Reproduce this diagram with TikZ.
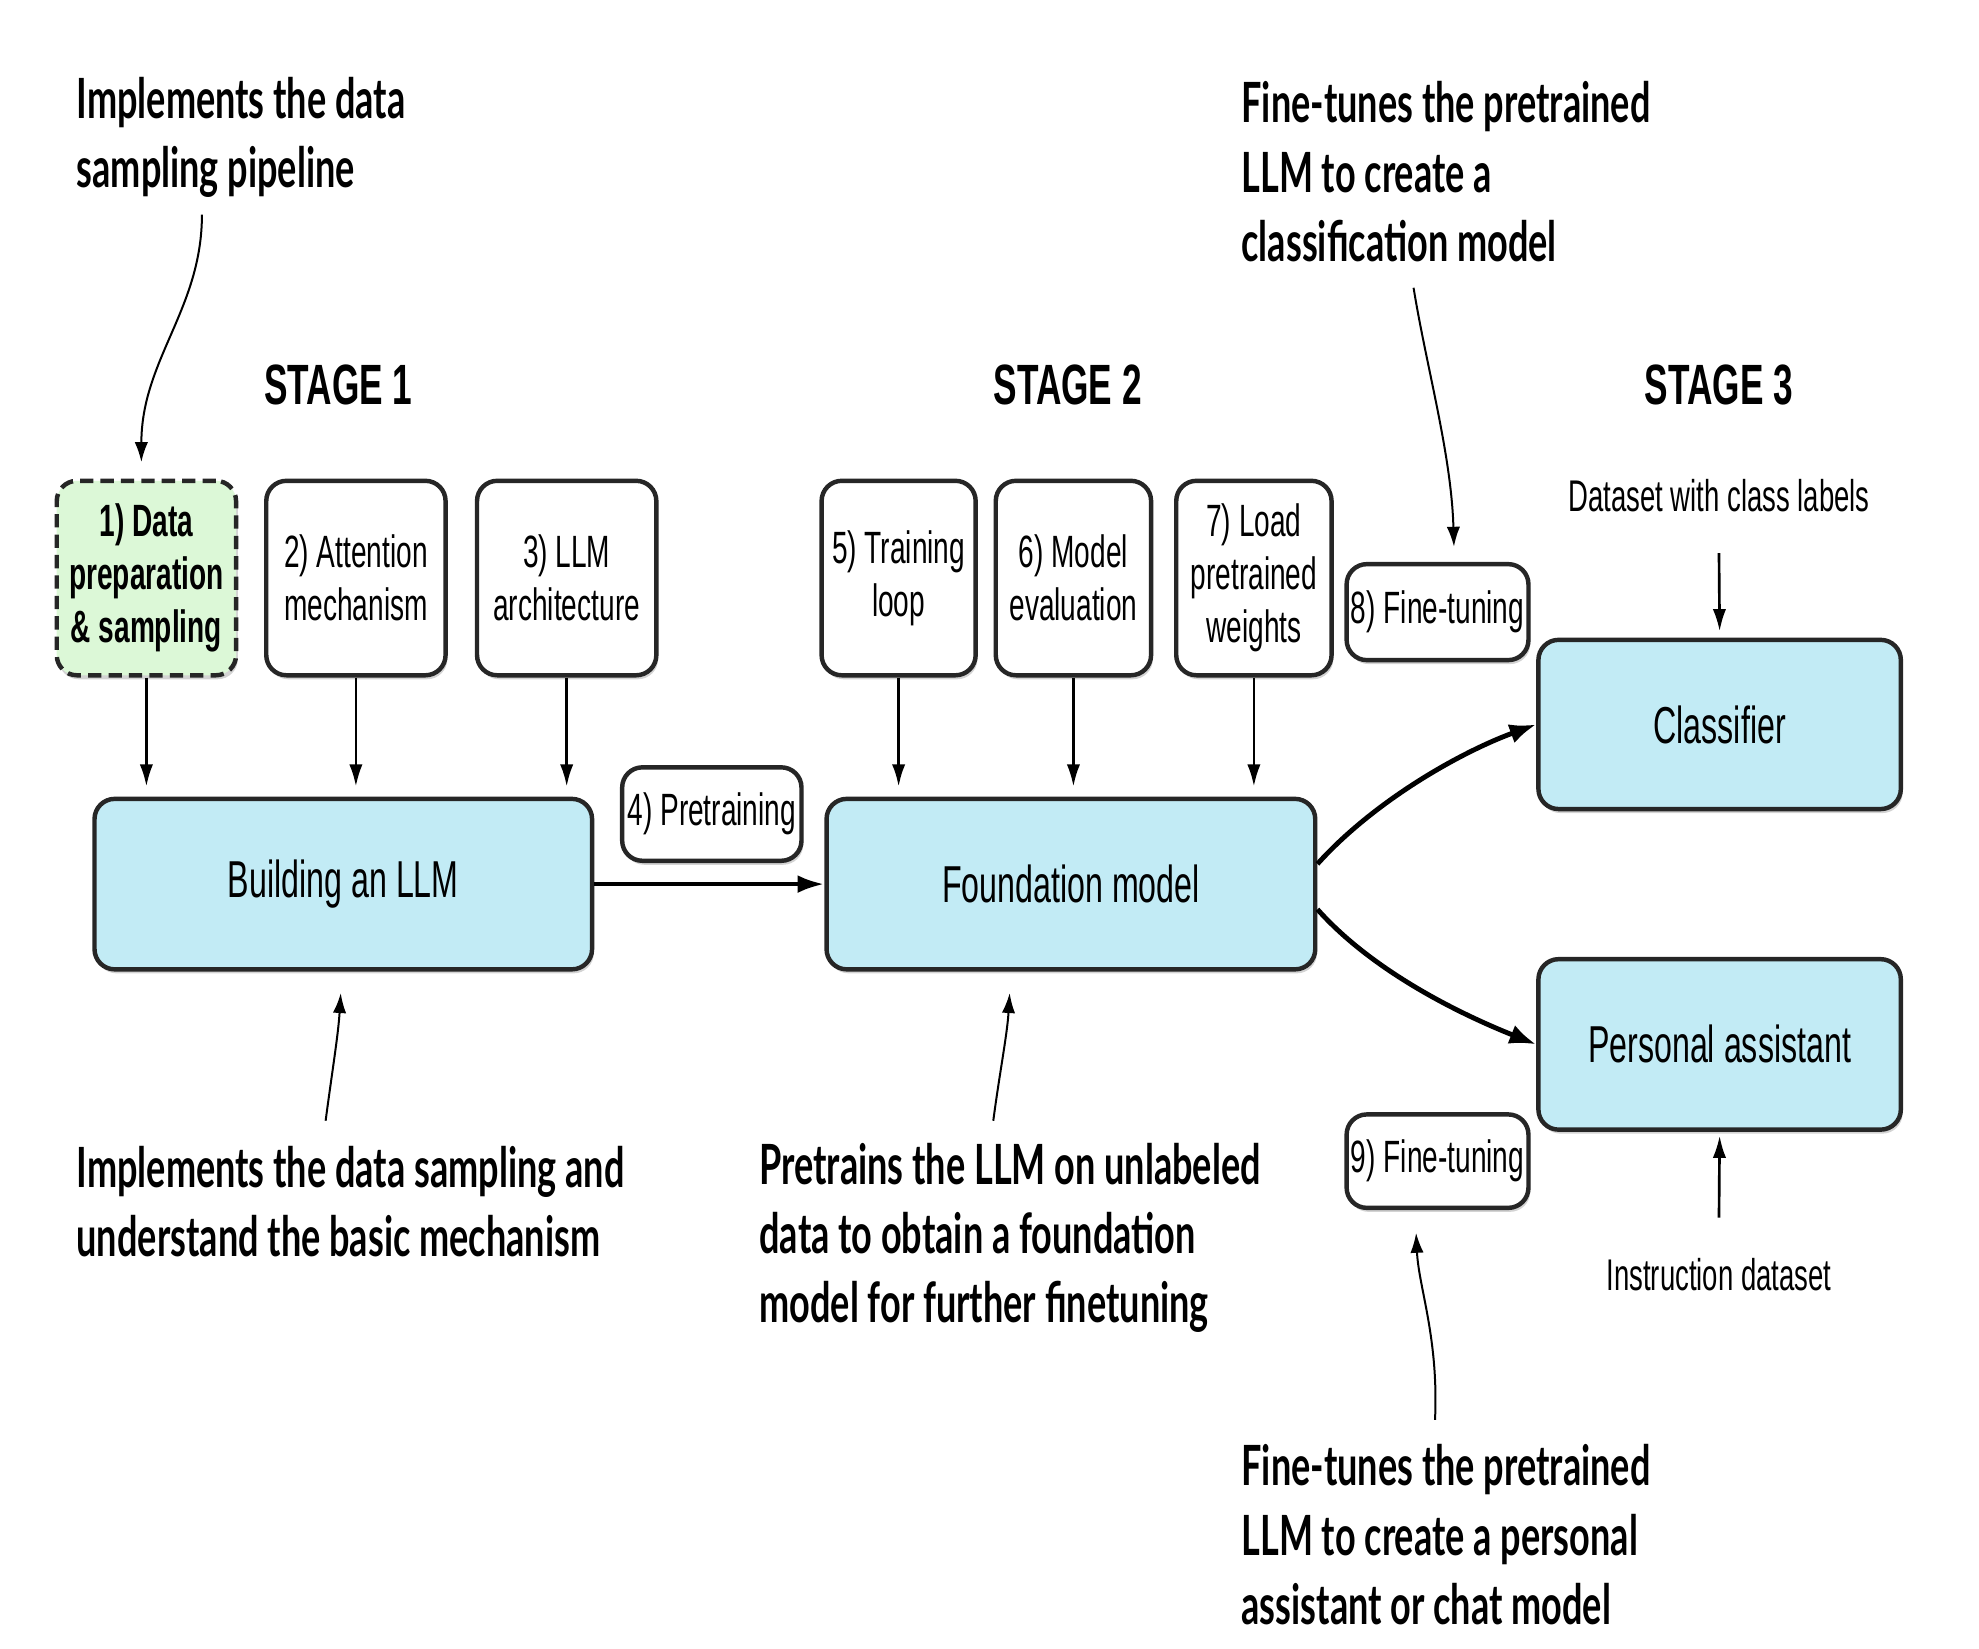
\documentclass[tikz,border=0pt]{standalone}
\usepackage{fontspec}
\setmainfont{Liberation Sans}[FakeStretch=0.62]
\newfontfamily\annfont{Lato}[FakeStretch=0.65]
\usetikzlibrary{arrows.meta,calc,shadows}
\definecolor{boxblue}{RGB}{194,235,245}
\definecolor{boxgreen}{RGB}{220,248,215}
\tikzset{
  base/.style={draw=black!85, line width=1pt, rounded corners=0.16cm, align=center, inner sep=0pt,
     drop shadow={shadow xshift=0.4pt, shadow yshift=-0.9pt, opacity=0.35}},
  smallbox/.style={base, fill=white, font=\fontsize{10.2}{11.9}\selectfont},
  bigbox/.style={base, fill=boxblue, font=\fontsize{11.7}{13}\selectfont},
  stagelbl/.style={font=\bfseries\fontsize{12.8}{14}\selectfont},
  dslbl/.style={font=\fontsize{10}{12}\selectfont},
  anntext/.style={align=left, anchor=west, inner sep=0pt, font=\annfont\bfseries\fontsize{12.5}{15.6}\selectfont},
  arr/.style={line width=0.6pt, -{Latex[length=5pt,width=3pt]}},
  thickarr/.style={line width=1.1pt, -{Latex[length=6pt,width=4.5pt]}},
  annarr/.style={line width=0.45pt, -{Latex[length=4.5pt,width=3pt]}},
}
\begin{document}
\begin{tikzpicture}[x=0.01cm,y=-0.01cm]
\useasboundingbox (0,0) rectangle (1568,1306);
% top boxes stage 1
\node[smallbox, fill=boxgreen, dash pattern=on 3pt off 1.6pt, font=\bfseries\fontsize{10.2}{11.9}\selectfont,
      minimum width=1.42cm, minimum height=1.54cm] (b1) at (116,458) {1) Data\\preparation\\\& sampling};
\node[smallbox, minimum width=1.42cm, minimum height=1.54cm] (b2) at (282,458) {2) Attention\\mechanism};
\node[smallbox, minimum width=1.42cm, minimum height=1.54cm] (b3) at (449,458) {3) LLM\\architecture};
% stage 2 boxes
\node[smallbox, minimum width=1.22cm, minimum height=1.54cm] (b5) at (712,458) {5) Training\\loop};
\node[smallbox, minimum width=1.23cm, minimum height=1.54cm] (b6) at (850.5,458) {6) Model\\evaluation};
\node[smallbox, minimum width=1.23cm, minimum height=1.54cm] (b7) at (993.5,458) {7) Load\\pretrained\\weights};
% main boxes
\node[bigbox, minimum width=3.94cm, minimum height=1.35cm] (llm) at (272,700.5) {Building an LLM};
\node[bigbox, minimum width=3.87cm, minimum height=1.35cm] (fm) at (848.5,700.5) {Foundation model};
\node[bigbox, minimum width=2.87cm, minimum height=1.34cm] (cls) at (1362.5,574) {Classifier};
\node[bigbox, minimum width=2.87cm, minimum height=1.35cm] (pa) at (1362.5,827.5) {Personal assistant};
% small label boxes
\node[smallbox, minimum width=1.42cm, minimum height=0.74cm] (pre) at (564,645) {4) Pretraining};
\node[smallbox, minimum width=1.44cm, minimum height=0.76cm] (ft8) at (1139,485) {8) Fine-tuning};
\node[smallbox, minimum width=1.44cm, minimum height=0.74cm] (ft9) at (1139,920) {9) Fine-tuning};
% stage labels
\node[stagelbl] (s1) at (268,305) {STAGE 1};
\node[stagelbl] (s2) at (846,305) {STAGE 2};
\node[stagelbl] (s3) at (1362,305) {STAGE 3};
\node[dslbl] (ds) at (1362,393) {Dataset with class labels};
\node[dslbl] (ins) at (1362,1010) {Instruction dataset};
% annotations
\node[anntext] (a1) at (60,109) {Implements the data\\sampling pipeline};
\node[anntext] (a2) at (60,952) {Implements the data sampling and\\understand the basic mechanism};
\node[anntext] (a3) at (601,981) {Pretrains the LLM on unlabeled\\data to obtain a foundation\\model for further finetuning};
\node[anntext] (a4) at (983,136) {Fine-tunes the pretrained\\LLM to create a\\classification model};
\node[anntext] (a5) at (983,1216) {Fine-tunes the pretrained\\LLM to create a personal\\assistant or chat model};
% connectors
\draw[arr] (b1.south) -- ($(b1.south |- llm.north)+(0,-8)$);
\draw[arr] (b2.south) -- ($(b2.south |- llm.north)+(0,-8)$);
\draw[arr] (b3.south) -- ($(b3.south |- llm.north)+(0,-8)$);
\draw[arr] (b5.south) -- ($(b5.south |- fm.north)+(0,-8)$);
\draw[arr] (b6.south) -- ($(b6.south |- fm.north)+(0,-8)$);
\draw[arr] (b7.south) -- ($(b7.south |- fm.north)+(0,-8)$);
\draw[line width=1pt, -{Latex[length=6pt,width=4pt]}] (llm.east) -- (fm.west);
\draw[thickarr] ($(fm.east)+(0,-16)$) .. controls +(45,-50) and +(-60,22) .. (cls.west);
\draw[thickarr] ($(fm.east)+(0,20)$) .. controls +(40,45) and +(-70,-28) .. (pa.west);
\draw[arr] ($(ds.south)+(0,20)$) -- ($(cls.north)+(0,-5)$);
\draw[arr] ($(ins.north)+(0,-20)$) -- ($(pa.south)+(0,3)$);
% annotation arrows
\coordinate (a1s) at (160,170);
\coordinate (a2s) at (258,888);
\coordinate (a3s) at (787,888);
\coordinate (a4s) at (1120,228);
\coordinate (a5s) at (1137,1125);
\draw[annarr] (a1s) .. controls (160,245) and (112,285) .. ($(b1.north)+(-4,-13)$);
\draw[annarr] (a2s) .. controls (263,850) and (268,820) .. ($(llm.south)+(-2,17)$);
\draw[annarr] (a3s) .. controls (792,850) and (798,820) .. ($(fm.south)+(-48.5,17)$);
\draw[annarr] (a4s) .. controls (1130,290) and (1150,360) .. ($(ft8.north)+(13,-12)$);
\draw[annarr] (a5s) .. controls (1140,1060) and (1124,1020) .. ($(ft9.south)+(-17,18)$);
\end{tikzpicture}
\end{document}
